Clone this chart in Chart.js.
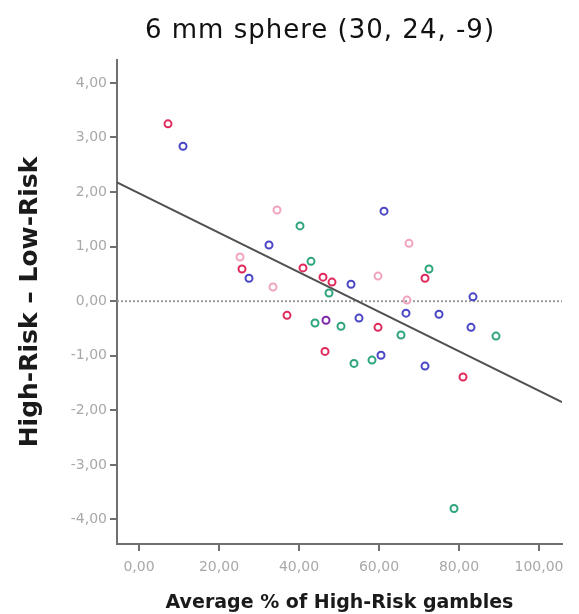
<!DOCTYPE html>
<html>
<head>
<meta charset="utf-8">
<script src="https://cdn.jsdelivr.net/npm/chart.js@4/dist/chart.umd.min.js"></script>
<style>
  html, body { margin: 0; padding: 0; background: #fff; }
  #wrap { width: 579px; height: 614px; }
</style>
</head>
<body>
<div id="wrap"><canvas id="c" width="579" height="614"></canvas></div>
<script>
// ----- Data -----
const titleText = "6 mm sphere (30, 24, -9)";
const xTitle = "Average % of High-Risk gambles";
const yTitle = "High-Risk \u2013 Low-Risk";

const xTicks = [0, 20, 40, 60, 80, 100];
const yTicks = [-4, -3, -2, -1, 0, 1, 2, 3, 4];
const xMin = -5.5, xMax = 105.75;
const yMin = -4.45, yMax = 4.42;

const redX = [7.25, 25.75, 41, 46, 48.25, 71.5, 37, 59.75, 46.5, 81];
const redY = [3.25, 0.59, 0.61, 0.44, 0.35, 0.42, -0.26, -0.48, -0.92, -1.39];

const blueX = [11, 32.5, 27.5, 61.25, 53, 83.5, 66.75, 75, 55, 83, 60.5, 71.5];
const blueY = [2.84, 1.03, 0.42, 1.65, 0.31, 0.08, -0.22, -0.24, -0.31, -0.48, -0.99, -1.19];

const greenX = [40.25, 43, 47.5, 72.5, 44, 50.5, 65.5, 89.25, 53.75, 58.25, 78.75];
const greenY = [1.38, 0.73, 0.15, 0.59, -0.40, -0.46, -0.62, -0.64, -1.14, -1.08, -3.80];

const pinkX = [34.5, 25.25, 33.5, 67.5, 59.75, 67];
const pinkY = [1.67, 0.81, 0.26, 1.06, 0.46, 0.02];

const purpleX = [46.75];
const purpleY = [-0.35];

// linear fit
const fitIntercept = 1.98;
const fitSlope = -0.0362;

// ----- helpers -----
const pts = (xs, ys) => xs.map((x, i) => ({ x, y: ys[i] }));
const fmt = v => v.toFixed(2).replace(".", ",");

function scatterSet(xs, ys, color) {
  return {
    type: "scatter",
    data: pts(xs, ys),
    borderColor: color,
    backgroundColor: "rgba(0,0,0,0)",
    pointRadius: 3.5,
    pointBorderWidth: 2,
    order: 1,
  };
}

const titlePlugin = {
  id: "plotTitle",
  afterDraw(chart) {
    const ctx = chart.ctx;
    ctx.save();
    ctx.font = '26px "DejaVu Sans"';
    ctx.letterSpacing = "1px";
    ctx.fillStyle = "#111";
    ctx.textAlign = "center";
    ctx.textBaseline = "alphabetic";
    ctx.fillText(titleText, 320, 38);
    ctx.restore();
  }
};

const axisColor = "#707070";
const tickFont = { family: "DejaVu Sans", size: 14 };

new Chart(document.getElementById("c"), {
  type: "scatter",
  data: {
    datasets: [
      scatterSet(redX, redY, "#e02a5c"),
      scatterSet(blueX, blueY, "#4a46c4"),
      scatterSet(greenX, greenY, "#2ea57a"),
      scatterSet(pinkX, pinkY, "#f0a4c0"),
      scatterSet(purpleX, purpleY, "#7e2aa8"),
      { // zero reference
        type: "line",
        data: [{ x: xMin, y: 0 }, { x: xMax, y: 0 }],
        borderColor: "#9a9a9a",
        borderWidth: 2,
        borderDash: [2, 2],
        pointRadius: 0,
        order: 3,
      },
      { // fit line
        type: "line",
        data: [{ x: xMin, y: fitIntercept + fitSlope * xMin },
               { x: xMax, y: fitIntercept + fitSlope * xMax }],
        borderColor: "#505050",
        borderWidth: 2,
        pointRadius: 0,
        order: 2,
      },
    ],
  },
  options: {
    responsive: false,
    animation: false,
    layout: { padding: { top: 60, right: 17, left: 0, bottom: 0 } },
    plugins: { legend: { display: false }, tooltip: { enabled: false }, title: { display: false } },
    scales: {
      x: {
        type: "linear",
        min: xMin, max: xMax,
        afterBuildTicks: s => { s.ticks = xTicks.map(v => ({ value: v })); },
        afterFit: s => { s.height = 70; },
        border: { color: axisColor, width: 2 },
        grid: { drawOnChartArea: false, tickLength: 7, tickColor: axisColor, lineWidth: 2 },
        ticks: { color: "#a8a8a8", font: tickFont, padding: 8, callback: v => fmt(v), maxRotation: 0 },
        title: { display: true, text: xTitle, color: "#1a1a1a",
                 font: { family: "DejaVu Sans", size: 19, weight: "bold" }, padding: { top: 4, bottom: 0 } },
      },
      y: {
        type: "linear",
        min: yMin, max: yMax,
        afterBuildTicks: s => { s.ticks = yTicks.map(v => ({ value: v })); },
        afterFit: s => { s.width = 117; },
        border: { color: axisColor, width: 2 },
        grid: { drawOnChartArea: false, tickLength: 7, tickColor: axisColor, lineWidth: 2 },
        ticks: { color: "#a8a8a8", font: tickFont, padding: 3, callback: v => fmt(v) },
        title: { display: true, text: yTitle, color: "#1a1a1a",
                 font: { family: "DejaVu Sans", size: 25, weight: "bold" }, padding: { top: 15, bottom: 0 } },
      },
    },
  },
  plugins: [titlePlugin],
});
</script>
</body>
</html>
